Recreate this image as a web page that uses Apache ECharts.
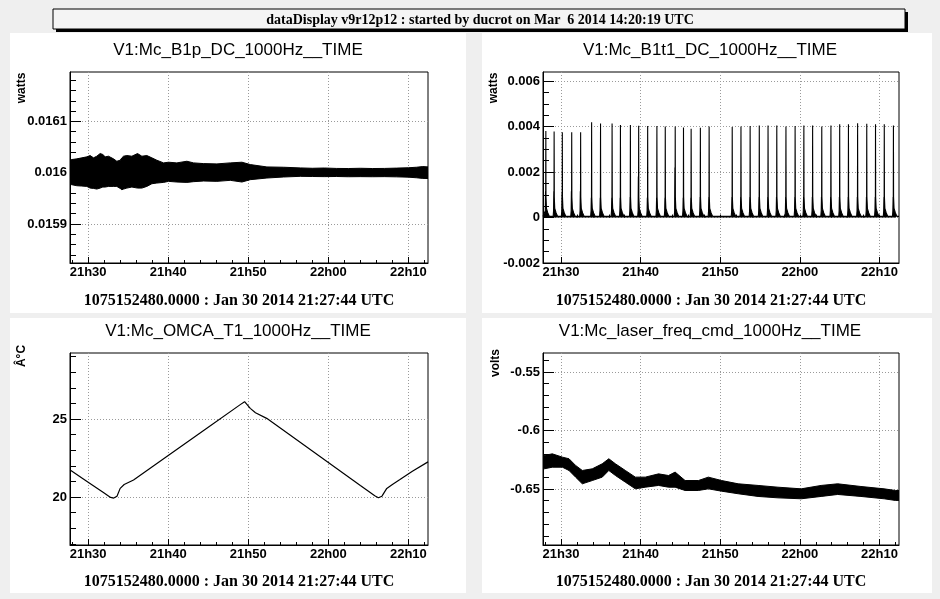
<!DOCTYPE html>
<html><head><meta charset="utf-8">
<script src="https://cdn.jsdelivr.net/npm/echarts@6/dist/echarts.min.js"></script>
<style>html,body{margin:0;padding:0;background:#efefef}#c{width:940px;height:599px}</style>
</head><body><div id="c"></div>
<script>
// ---------------- texts ----------------
const headerText = 'dataDisplay v9r12p12 : started by ducrot on Mar  6 2014 14:20:19 UTC';
const panelTitles = ['V1:Mc_B1p_DC_1000Hz__TIME', 'V1:Mc_B1t1_DC_1000Hz__TIME', 'V1:Mc_OMCA_T1_1000Hz__TIME', 'V1:Mc_laser_freq_cmd_1000Hz__TIME'];
const unitLabels = ['watts', 'watts', 'Â°C', 'volts'];
const timeCaption = '1075152480.0000 : Jan 30 2014 21:27:44 UTC';

// ---------------- x axis (minutes after 21:00 UTC) ----------------
const xMin = 27.733, xMax = 72.45;
const xMajorTicks = [30, 40, 50, 60, 70];
const xTickLabels = ['21h30', '21h40', '21h50', '22h00', '22h10'];
const xMinorStep = 2;

// ---------------- y axes ----------------
const yRanges = [[0.015824, 0.016196], [-0.002, 0.0064], [16.92, 29.23], [-0.6979, -0.5338]];
const yMajorTicks = [[0.0159, 0.016, 0.0161], [-0.002, 0, 0.002, 0.004, 0.006], [20, 25], [-0.65, -0.6, -0.55]];
const yTickLabels = [['0.0159', '0.016', '0.0161'], ['-0.002', '0', '0.002', '0.004', '0.006'], ['20', '25'], ['-0.65', '-0.6', '-0.55']];
const yMinorSteps = [0.00002, 0.0005, 1, 0.01];

// ---------------- data ----------------
// Panel 1: B1p DC power, noise envelope (upper / lower) in watts
const b1pTime  = [27.74, 27.96, 28.58, 29.21, 29.83, 30.25, 30.67, 31.08, 31.5, 31.83, 32.13, 32.54, 33.17, 33.58, 34.0, 34.21, 34.42, 34.83, 35.46, 36.17, 36.71, 37.33, 37.96, 38.58, 39.42, 40.04, 41.08, 42.33, 43.17, 44.42, 46.08, 47.75, 49.21, 50.25, 52.33, 54.42, 56.5, 58.0, 59.5, 61.0, 62.5, 64.0, 65.5, 67.0, 68.5, 70.0, 71.0, 71.8, 72.45];
const b1pUpper = [0.0160250, 0.0160255, 0.0160268, 0.0160288, 0.0160307, 0.0160333, 0.0160288, 0.0160320, 0.0160372, 0.0160353, 0.0160307, 0.0160320, 0.0160268, 0.0160222, 0.0160242, 0.0160288, 0.0160320, 0.0160333, 0.0160320, 0.0160372, 0.0160320, 0.0160333, 0.0160288, 0.0160242, 0.0160190, 0.0160203, 0.0160190, 0.0160222, 0.0160190, 0.0160176, 0.0160170, 0.0160190, 0.0160203, 0.0160157, 0.0160111, 0.0160105, 0.0160092, 0.0160085, 0.0160090, 0.0160082, 0.0160080, 0.0160085, 0.0160080, 0.0160082, 0.0160088, 0.0160095, 0.0160105, 0.0160118, 0.0160112];
const b1pLower = [0.0159770, 0.0159765, 0.0159745, 0.0159739, 0.0159732, 0.0159699, 0.0159693, 0.0159680, 0.0159699, 0.0159719, 0.0159719, 0.0159732, 0.0159732, 0.0159732, 0.0159693, 0.0159667, 0.0159680, 0.0159699, 0.0159719, 0.0159699, 0.0159699, 0.0159732, 0.0159784, 0.0159797, 0.0159810, 0.0159830, 0.0159817, 0.0159810, 0.0159824, 0.0159837, 0.0159830, 0.0159850, 0.0159817, 0.0159863, 0.0159895, 0.0159915, 0.0159928, 0.0159925, 0.0159922, 0.0159925, 0.0159920, 0.0159922, 0.0159920, 0.0159922, 0.0159918, 0.0159912, 0.0159900, 0.0159888, 0.0159885];

// Panel 2: B1t1 DC power, periodic spikes (time in minutes, peak and shoulder heights in watts)
const b1t1SpikeTime     = [28.09, 29.13, 30.16, 31.34, 32.46, 33.84, 34.96, 36.41, 37.46, 38.71, 39.75, 40.88, 42.04, 43.09, 44.34, 45.38, 46.34, 47.5, 48.6, 51.5, 52.6, 53.75, 54.9, 56.0, 57.1, 58.25, 59.4, 60.5, 61.6, 62.75, 63.9, 65.0, 66.1, 67.25, 68.4, 69.5, 70.6, 71.75];
const b1t1SpikePeak     = [0.00381, 0.00378, 0.00375, 0.00375, 0.00375, 0.00419, 0.00413, 0.00413, 0.00407, 0.00407, 0.00404, 0.00403, 0.00403, 0.00400, 0.00400, 0.00396, 0.00390, 0.00395, 0.00400, 0.00398, 0.00400, 0.00402, 0.00405, 0.00405, 0.00405, 0.00400, 0.00402, 0.00405, 0.00405, 0.00400, 0.00405, 0.00410, 0.00410, 0.00415, 0.00412, 0.00410, 0.00410, 0.00405];
const b1t1SpikeShoulder = [0.00116, 0.00116, 0.00110, 0.00116, 0.00116, 0.00087, 0.00087, 0.00087, 0.00087, 0.00090, 0.00180, 0.00087, 0.00087, 0.00087, 0.00220, 0.00087, 0.00087, 0.00090, 0.00090, 0.00090, 0.00090, 0.00090, 0.00090, 0.00090, 0.00090, 0.00090, 0.00090, 0.00090, 0.00090, 0.00090, 0.00090, 0.00090, 0.00090, 0.00090, 0.00090, 0.00090, 0.00090, 0.00090];
const b1t1Baseline = 0.00005;

// Panel 3: OMCA temperature (°C)
const omcaTime = [27.75, 30.0, 32.0, 32.8, 33.2, 33.6, 34.0, 34.5, 35.67, 40.0, 45.0, 49.0, 49.54, 50.25, 50.9, 52.3, 55.0, 60.0, 64.0, 65.8, 66.25, 66.7, 67.3, 68.0, 68.9, 70.5, 72.45];
const omcaTemp = [21.73, 20.95, 20.25, 19.97, 19.93, 20.05, 20.55, 20.80, 21.09, 22.66, 24.47, 25.92, 26.11, 25.68, 25.40, 25.04, 24.05, 22.21, 20.74, 20.08, 19.95, 20.05, 20.55, 20.80, 21.10, 21.65, 22.25];

// Panel 4: laser frequency command, noise envelope (upper / lower) in volts
const laserTime  = [27.74, 27.875, 28.9, 30.17, 31.0, 31.83, 32.67, 33.92, 35.17, 36.0, 36.83, 38.08, 39.33, 40.58, 42.25, 43.5, 44.33, 45.58, 47.25, 48.5, 50.17, 52.25, 54.75, 57.25, 60.17, 62.67, 64.75, 67.67, 70.58, 72.0, 72.45];
const laserUpper = [-0.6214, -0.6214, -0.6200, -0.6228, -0.6242, -0.6299, -0.6342, -0.6328, -0.6285, -0.6242, -0.6285, -0.6342, -0.6399, -0.6399, -0.6371, -0.6385, -0.6356, -0.6428, -0.6428, -0.6399, -0.6428, -0.6456, -0.6470, -0.6485, -0.6499, -0.6470, -0.6456, -0.6479, -0.6499, -0.6513, -0.6513];
const laserLower = [-0.6328, -0.6328, -0.6314, -0.6314, -0.6342, -0.6399, -0.6456, -0.6428, -0.6399, -0.6342, -0.6385, -0.6442, -0.6499, -0.6485, -0.6470, -0.6485, -0.6485, -0.6513, -0.6513, -0.6499, -0.6519, -0.6541, -0.6564, -0.6576, -0.6584, -0.6564, -0.6547, -0.6564, -0.6584, -0.6598, -0.6598];

// ---------------- build ----------------
const chart = echarts.init(document.getElementById('c'));
const grids = [
  { left: 70, top: 72, width: 358, height: 191 },
  { left: 543, top: 72, width: 356, height: 191 },
  { left: 70, top: 353, width: 358, height: 192 },
  { left: 543, top: 353, width: 356, height: 192 }
];
const padRects = [[10, 33, 456, 280], [482, 33, 450, 280], [10, 318, 456, 275], [482, 318, 450, 275]];
const titleY = [50, 50, 331, 331];
const captionY = [301, 301, 582, 582];
const unitPos = [[22, 88], [494, 88], [22, 356], [496, 363]];

function stepValues(lo, hi, step) {
  const out = [];
  const k0 = Math.ceil(lo / step - 1e-9), k1 = Math.floor(hi / step + 1e-9);
  for (let k = k0; k <= k1; k++) out.push(+(k * step).toPrecision(10));
  return out;
}
const xMinorTicks = stepValues(xMin, xMax, xMinorStep);
const labelFont = { fontFamily: 'Liberation Sans, Arial, sans-serif', fontWeight: 'bold', fontSize: 13, color: '#000' };

const xAxes = [], yAxes = [];
grids.forEach((g, i) => {
  xAxes.push({
    type: 'value', gridIndex: i, min: xMin, max: xMax, position: 'bottom',
    axisLine: { show: true, onZero: false, lineStyle: { color: '#000', width: 1 } },
    axisTick: { show: true, inside: true, length: 6, customValues: xMajorTicks, lineStyle: { color: '#000' } },
    axisLabel: Object.assign({ show: true, margin: 3, customValues: xMajorTicks,
      formatter: v => xTickLabels[xMajorTicks.findIndex(t => Math.abs(t - v) < 1e-6)] || '' }, labelFont),
    splitLine: { show: true, lineStyle: { color: '#9a9a9a', type: [1, 2], width: 1 } }
  });
  xAxes.push({
    type: 'value', gridIndex: i, min: xMin, max: xMax, position: 'bottom',
    axisLine: { show: false }, axisLabel: { show: false }, splitLine: { show: false },
    axisTick: { show: true, inside: true, length: 3, customValues: xMinorTicks, lineStyle: { color: '#000' } }
  });
  const [ymin, ymax] = yRanges[i];
  const maj = yMajorTicks[i], labs = yTickLabels[i];
  yAxes.push({
    type: 'value', gridIndex: i, min: ymin, max: ymax, position: 'left',
    axisLine: { show: true, onZero: false, lineStyle: { color: '#000', width: 1 } },
    axisTick: { show: true, inside: true, length: 11, customValues: maj, lineStyle: { color: '#000' } },
    axisLabel: Object.assign({ show: true, margin: 3, customValues: maj,
      formatter: v => labs[maj.findIndex(t => Math.abs(t - v) < 1e-9)] || '' }, labelFont),
    splitLine: { show: true, lineStyle: { color: '#9a9a9a', type: [1, 2], width: 1 } }
  });
  yAxes.push({
    type: 'value', gridIndex: i, min: ymin, max: ymax, position: 'left',
    axisLine: { show: false }, axisLabel: { show: false }, splitLine: { show: false },
    axisTick: { show: true, inside: true, length: 6, customValues: stepValues(ymin, ymax, yMinorSteps[i]), lineStyle: { color: '#000' } }
  });
});

function zip(t, v) { return t.map((x, k) => [x, v[k]]); }
// noise envelope drawn as a filled polygon through the axis scales
function bandSeries(idx, t, up, lo) {
  return {
    type: 'custom', xAxisIndex: idx * 2, yAxisIndex: idx * 2, clip: true, silent: true,
    data: [[t[0], up[0]]],
    renderItem: (params, api) => {
      const top = t.map((x, k) => api.coord([x, up[k]]));
      const bot = t.map((x, k) => api.coord([x, lo[k]])).reverse();
      return { type: 'polygon', shape: { points: top.concat(bot) }, style: { fill: '#000', stroke: '#000', lineWidth: 1 } };
    }
  };
}

// spikes: build the polyline from the spike tables
const spikeData = [[xMin, b1t1Baseline]];
b1t1SpikeTime.forEach((t, k) => {
  spikeData.push([t - 0.12, b1t1Baseline]);
  spikeData.push([t - 0.07, 0.0003]);
  spikeData.push([t - 0.04, b1t1SpikeShoulder[k]]);
  spikeData.push([t - 0.02, 0.0004]);
  spikeData.push([t, b1t1SpikePeak[k]]);
  spikeData.push([t + 0.02, 0.0009]);
  spikeData.push([t + 0.08, 0.0004]);
  spikeData.push([t + 0.25, 0.0002]);
  spikeData.push([t + 0.45, b1t1Baseline]);
});
spikeData.push([xMax, b1t1Baseline]);

const series = [
  bandSeries(0, b1pTime, b1pUpper, b1pLower),
  { type: 'line', xAxisIndex: 2, yAxisIndex: 2, data: spikeData, symbol: 'none',
    lineStyle: { color: '#000', width: 1.1 }, areaStyle: { color: '#000', opacity: 1, origin: 0 }, animation: false },
  { type: 'line', xAxisIndex: 4, yAxisIndex: 4, data: zip(omcaTime, omcaTemp), symbol: 'none',
    lineStyle: { color: '#000', width: 1.2 }, animation: false },
  bandSeries(3, laserTime, laserUpper, laserLower)
];

const graphics = [];
padRects.forEach(r => graphics.push({ type: 'rect', z: -10, shape: { x: r[0], y: r[1], width: r[2], height: r[3] }, style: { fill: '#fff' } }));
graphics.push({ type: 'rect', z: -5, shape: { x: 56, y: 12, width: 852, height: 20 }, style: { fill: '#000' } });
graphics.push({ type: 'rect', z: -4, shape: { x: 53, y: 9, width: 852, height: 20 }, style: { fill: '#f4f4f4', stroke: '#000', lineWidth: 1 } });
graphics.push({ type: 'text', z: 10, x: 480, y: 20, style: { text: headerText, fontFamily: 'Liberation Serif, Times New Roman, serif', fontWeight: 'bold', fontSize: 14, fill: '#000', align: 'center', verticalAlign: 'middle' } });
grids.forEach((g, i) => {
  const cx = (padRects[i][0] + padRects[i][0] + padRects[i][2]) / 2 + (i % 2 ? 3 : 0);
  graphics.push({ type: 'text', z: 10, x: cx, y: titleY[i], style: { text: panelTitles[i], fontFamily: 'Liberation Sans, Arial, sans-serif', fontSize: 17, fill: '#000', align: 'center', verticalAlign: 'middle' } });
  graphics.push({ type: 'text', z: 10, x: cx + 1, y: captionY[i], style: { text: timeCaption, fontFamily: 'Liberation Serif, Times New Roman, serif', fontWeight: 'bold', fontSize: 16, fill: '#000', align: 'center', verticalAlign: 'middle' } });
  graphics.push({ type: 'text', z: 10, x: unitPos[i][0], y: unitPos[i][1], rotation: Math.PI / 2, style: { text: unitLabels[i], fontFamily: 'Liberation Sans, Arial, sans-serif', fontWeight: 'bold', fontSize: 12, fill: '#000', align: 'center', verticalAlign: 'middle' } });
});

chart.setOption({
  animation: false,
  backgroundColor: '#efefef',
  grid: grids.map(g => Object.assign({ show: true, backgroundColor: 'transparent', borderColor: '#000', borderWidth: 1, containLabel: false }, g)),
  xAxis: xAxes,
  yAxis: yAxes,
  series: series,
  graphic: graphics
});
</script>
</body></html>
